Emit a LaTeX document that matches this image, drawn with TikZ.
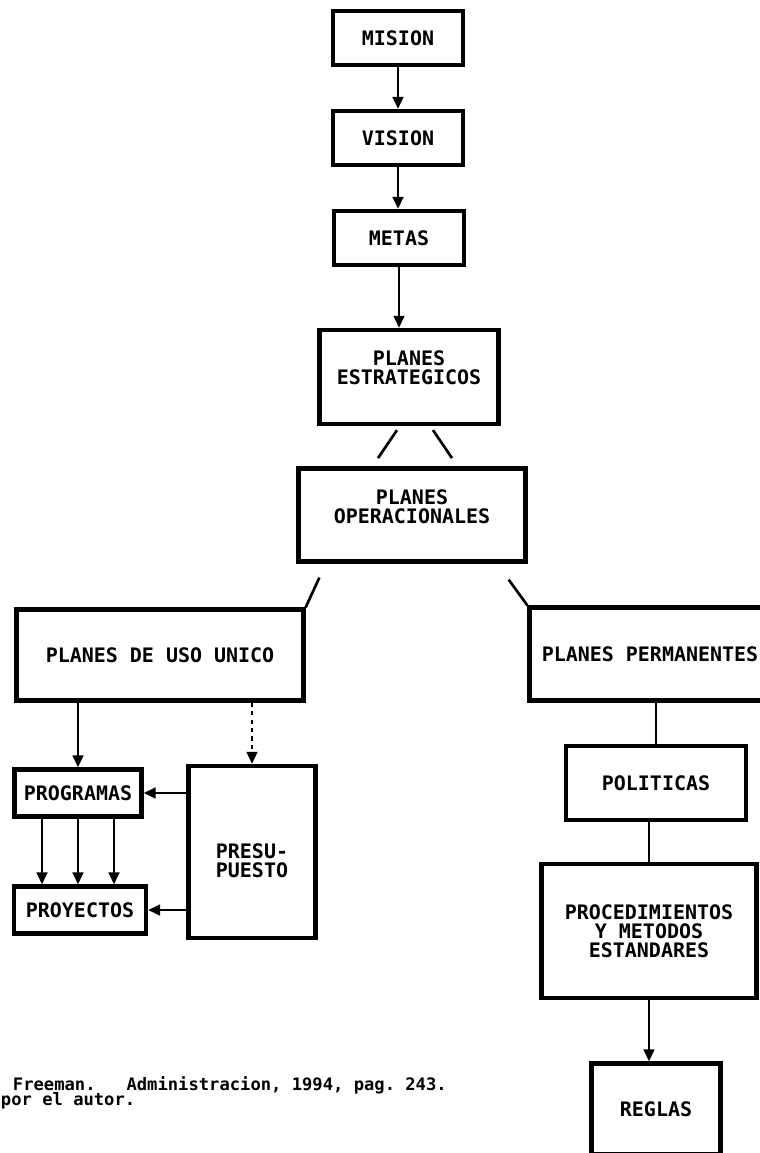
\documentclass[tikz,border=0pt]{standalone}
\usepackage{fontspec}
\setmonofont{DejaVu Sans Mono}
\usetikzlibrary{arrows.meta,calc}

\begin{document}
\begin{tikzpicture}[x=0.025cm,y=-0.025cm,
    font=\ttfamily\bfseries\fontsize{14.2}{13.5}\selectfont,
    caja/.style={draw,line width=3pt,align=center,inner sep=0pt},
    flecha/.style={line width=1.9pt,-{Triangle[length=8.5pt,width=7.5pt]}},
    linea/.style={line width=1.9pt}]
  \useasboundingbox (0,0) rectangle (760,1153);
  \node[caja,minimum width=3.25cm,minimum height=1.35cm] (mision) at (398,38) {MISION};
  \node[caja,minimum width=3.25cm,minimum height=1.35cm] (vision) at (398,138) {VISION};
  \node[caja,minimum width=3.25cm,minimum height=1.35cm] (metas) at (399,238) {METAS};
  \node[caja,minimum width=4.475cm,minimum height=2.35cm] (estrat) at (409,377) {PLANES\\ESTRATEGICOS\\[0pt]};
  \node[caja,minimum width=5.675cm,minimum height=2.325cm] (operac) at (412,515) {PLANES\\OPERACIONALES\\[-2pt]};
  \node[caja,minimum width=7.175cm,minimum height=2.275cm] (unico) at (160,655) {PLANES DE USO UNICO};
  \node[caja,minimum width=6.025cm,minimum height=2.325cm] (perman) at (650,654) {PLANES PERMANENTES};
  \node[caja,minimum width=3.175cm,minimum height=1.175cm] (progr) at (78,793) {PROGRAMAS};
  \node[caja,minimum width=3.3cm,minimum height=1.175cm] (proyec) at (80,910) {PROYECTOS};
  \node[caja,minimum width=3.175cm,minimum height=4.3cm] (presup) at (252,852) {\\[10pt]PRESU-\\PUESTO};
  \node[caja,minimum width=4.5cm,minimum height=1.85cm] (polit) at (656,783) {POLITICAS};
  \node[caja,minimum width=5.375cm,minimum height=3.35cm] (proced) at (649,931) {PROCEDIMIENTOS\\Y METODOS\\ESTANDARES};
  \node[caja,minimum width=3.225cm,minimum height=2.275cm] (reglas) at (656,1109) {REGLAS};
  \node[anchor=west,font=\ttfamily\bfseries\fontsize{12.2}{16}\selectfont] (fuente) at (8,1085) {Freeman.~~~Administracion, 1994, pag. 243.};
  \node[anchor=west,font=\ttfamily\bfseries\fontsize{12.2}{16}\selectfont] (autor) at (-4,1101) {por el autor.};
  \draw[flecha] (mision.south) -- (mision.south |- vision.north);
  \draw[flecha] (vision.south) -- (vision.south |- metas.north);
  \draw[flecha] (metas.south) -- (metas.south |- estrat.north);
  \draw[linea] ($(estrat.south)+(-12,4)$) -- ($(estrat.south)+(-31,32)$);
  \draw[linea] ($(estrat.south)+(24,4)$) -- ($(estrat.south)+(43,32)$);
  \draw[linea] ($(operac.south west)+(23,14)$) -- (unico.north east);
  \draw[linea] ($(operac.south east)+(-19,16)$) -- (perman.north west);
  \draw[flecha] (unico.south -| progr.north) -- (progr.north);
  \draw[flecha,dashed] (unico.south -| presup.north) -- (presup.north);
  \foreach \dx in {-36,0,36}
    \draw[flecha] ($(progr.south)+(\dx,0)$) -- ($(progr.south |- proyec.north)+(\dx,0)$);
  \draw[flecha] (presup.west |- progr.east) -- (progr.east);
  \draw[flecha] (presup.west |- proyec.east) -- (proyec.east);
  \draw[linea] (perman.south -| polit.north) -- (polit.north);
  \draw[linea] (polit.south -| proced.north) -- (proced.north);
  \draw[flecha] (proced.south) -- (proced.south |- reglas.north);
\end{tikzpicture}
\end{document}
